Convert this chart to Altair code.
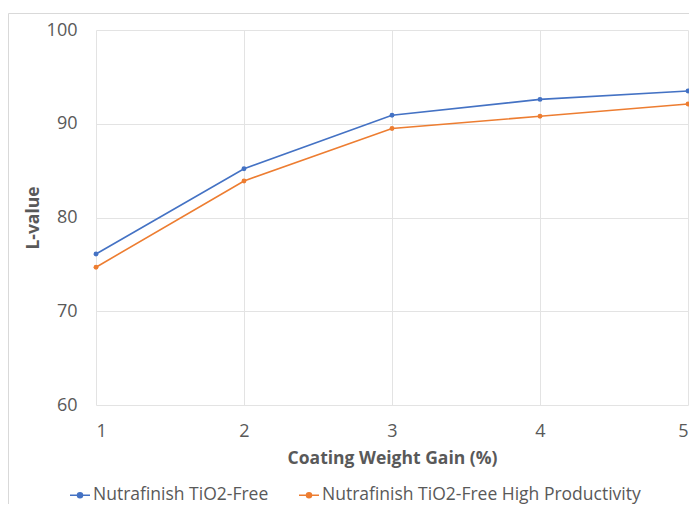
import altair as alt
import pandas as pd

x_vals = [1, 2, 3, 4, 5]
series_names = ["Nutrafinish TiO2-Free", "Nutrafinish TiO2-Free High Productivity"]
blue_vals = [76.1, 85.2, 90.9, 92.6, 93.5]
orange_vals = [74.7, 83.9, 89.5, 90.8, 92.1]
colors = ["#4472C4", "#ED7D31"]

rows = []
for x, v in zip(x_vals, blue_vals):
    rows.append({"x": x, "y": v, "s": series_names[0]})
for x, v in zip(x_vals, orange_vals):
    rows.append({"x": x, "y": v, "s": series_names[1]})
df = pd.DataFrame(rows)

FONT = "Open Sans"
GRAY = "#595959"

sym = "M-1,0L1,0M-0.25,0A0.25,0.25 0 1,1 0.25,0A0.25,0.25 0 1,1 -0.25,0Z"

base = alt.Chart(df).encode(
    x=alt.X("x:Q", scale=alt.Scale(domain=[1, 5], nice=False),
            axis=alt.Axis(values=x_vals, format="d", title="Coating Weight Gain (%)",
                          titleY=53, titleBaseline="middle", labelPadding=17)),
    y=alt.Y("y:Q", scale=alt.Scale(domain=[60, 100], nice=False),
            axis=alt.Axis(values=[60, 70, 80, 90, 100], title="L-value",
                          titleX=-63, titleY=187.5, titleBaseline="middle",
                          titleAlign="center", labelPadding=19)),
    color=alt.Color("s:N", scale=alt.Scale(domain=series_names, range=colors),
                    legend=alt.Legend(title=None, orient="none", legendX=-27, legendY=454,
                                      direction="horizontal", columns=2, columnPadding=27,
                                      symbolType=sym, symbolSize=400, symbolStrokeWidth=1.5,
                                      labelOffset=2, labelFontSize=17.5, labelColor=GRAY,
                                      labelFont=FONT, labelLimit=400)),
)

lines = base.mark_line(strokeWidth=1.6)
points = base.mark_circle(size=24, opacity=1)

one = pd.DataFrame({"a": [0]})
border_left = alt.Chart(one).mark_rule(color="#d9d9d9", strokeWidth=1).encode(
    x=alt.value(-87.5), y=alt.value(-16.5), y2=alt.value(475))
border_top = alt.Chart(one).mark_rule(color="#d9d9d9", strokeWidth=1).encode(
    x=alt.value(-87.5), x2=alt.value(593), y=alt.value(-16.5))

chart = alt.layer(border_left, border_top, lines, points).properties(
    width=592, height=375,
    autosize=alt.AutoSizeParams(type="none"),
    padding={"left": 88, "top": 22, "right": 1, "bottom": 99},
).configure_view(stroke=None).configure_axis(
    grid=True, gridColor="#e3e3e3", gridWidth=1, domain=False, ticks=False,
    labelFont=FONT, labelFontSize=18, labelColor=GRAY,
    titleFont=FONT, titleFontSize=17.5, titleColor=GRAY, titleFontWeight="bold",
)

chart.save("out.html", embed_options={"renderer": "svg", "actions": False})
